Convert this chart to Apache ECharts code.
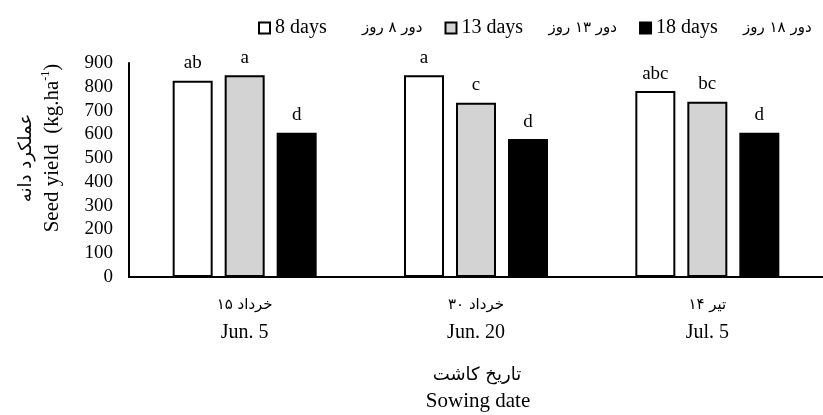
<!DOCTYPE html>
<html>
<head>
<meta charset="utf-8">
<script src="https://cdn.jsdelivr.net/npm/echarts@6/dist/echarts.min.js"></script>
<style>
html,body{margin:0;padding:0;background:#fff;}
#chart{width:823px;height:415px;}
</style>
</head>
<body>
<div id="chart"></div>
<script>
// ---- data ----
const categoriesFa = ['۱۵ خرداد', '۳۰ خرداد', '۱۴ تیر'];
const categoriesEn = ['Jun. 5', 'Jun. 20', 'Jul. 5'];
const seriesNamesEn = ['8 days', '13 days', '18 days'];
const seriesNamesFa = ['دور ۸ روز', 'دور ۱۳ روز', 'دور ۱۸ روز'];
const days8 = [825, 849, 782];
const days13 = [849, 733, 737];
const days18 = [607, 580, 607];
const letters8 = ['ab', 'a', 'abc'];
const letters13 = ['a', 'c', 'bc'];
const letters18 = ['d', 'd', 'd'];
const yMin = 0, yMax = 900, yStep = 100;
const yTitleFa = 'عملکرد دانه';
const yTitleEn = 'Seed yield  (kg.ha';
const yTitleSup = '-1';
const xTitleFa = 'تاریخ کاشت';
const xTitleEn = 'Sowing date';

const SERIF = "'Liberation Serif', 'Times New Roman', serif";
const FA = "'DejaVu Sans', sans-serif";

const chart = echarts.init(document.getElementById('chart'), null, {renderer: 'canvas'});

function makeSeries(name, data, letters, fill) {
  return {
    name: name,
    type: 'bar',
    data: data,
    barWidth: 40,
    barGap: '30%',
    itemStyle: {color: fill, borderColor: '#000', borderWidth: 2},
    label: {
      show: true,
      position: 'top',
      distance: 8,
      color: '#000',
      fontFamily: SERIF,
      fontSize: 19,
      formatter: p => letters[p.dataIndex]
    },
    emphasis: {disabled: true}
  };
}

const faByEn = {};
seriesNamesEn.forEach((n, i) => faByEn[n] = seriesNamesFa[i]);

const option = {
  animation: false,
  backgroundColor: '#fff',
  grid: {left: 129, right: 0, top: 63, bottom: 138, containLabel: false},
  legend: {
    left: 253,
    top: 13,
    itemWidth: 11,
    itemHeight: 11,
    itemGap: 22,
    icon: 'rect',
    selectedMode: false,
    data: seriesNamesEn,
    formatter: n => `{en|${n}}{fa|${faByEn[n]}}`,
    textStyle: {
      color: '#000',
      rich: {
        en: {fontFamily: SERIF, fontSize: 20, width: 87, color: '#000'},
        fa: {fontFamily: FA, fontSize: 15, width: 72, color: '#000'}
      }
    }
  },
  xAxis: {
    type: 'category',
    data: categoriesEn,
    axisLine: {lineStyle: {color: '#000', width: 2}},
    axisTick: {show: false},
    axisLabel: {
      margin: 14,
      color: '#000',
      formatter: (v, i) => `{fa|${categoriesFa[i]}}\n{en|${v}}`,
      rich: {
        fa: {fontFamily: FA, fontSize: 15, lineHeight: 28, color: '#000'},
        en: {fontFamily: SERIF, fontSize: 20, lineHeight: 28, color: '#000'}
      }
    }
  },
  yAxis: {
    type: 'value',
    min: yMin,
    max: yMax,
    interval: yStep,
    axisLine: {show: true, lineStyle: {color: '#000', width: 2}},
    axisTick: {show: false},
    splitLine: {show: false},
    axisLabel: {color: '#000', fontFamily: SERIF, fontSize: 19, margin: 16}
  },
  graphic: [
    {
      type: 'text', x: 26, y: 158, rotation: Math.PI / 2,
      style: {text: yTitleFa, font: `18px ${FA}`, fill: '#000', align: 'center', verticalAlign: 'middle'}
    },
    {
      type: 'text', x: 52, y: 148, rotation: Math.PI / 2,
      style: {
        text: `{a|${yTitleEn}}{s|${yTitleSup}}{a|)}`,
        align: 'center', verticalAlign: 'middle',
        rich: {
          a: {fontFamily: SERIF, fontSize: 21, lineHeight: 24, color: '#000'},
          s: {fontFamily: SERIF, fontSize: 12, lineHeight: 12, verticalAlign: 'top', color: '#000'}
        }
      }
    },
    {
      type: 'text', x: 477, y: 375,
      style: {text: xTitleFa, font: `18px ${FA}`, fill: '#000', align: 'center', verticalAlign: 'middle'}
    },
    {
      type: 'text', x: 478, y: 401,
      style: {text: xTitleEn, font: `21px ${SERIF}`, fill: '#000', align: 'center', verticalAlign: 'middle'}
    }
  ],
  series: [
    makeSeries(seriesNamesEn[0], days8, letters8, '#ffffff'),
    makeSeries(seriesNamesEn[1], days13, letters13, '#d3d3d3'),
    makeSeries(seriesNamesEn[2], days18, letters18, '#000000')
  ]
};
chart.setOption(option);
</script>
</body>
</html>
